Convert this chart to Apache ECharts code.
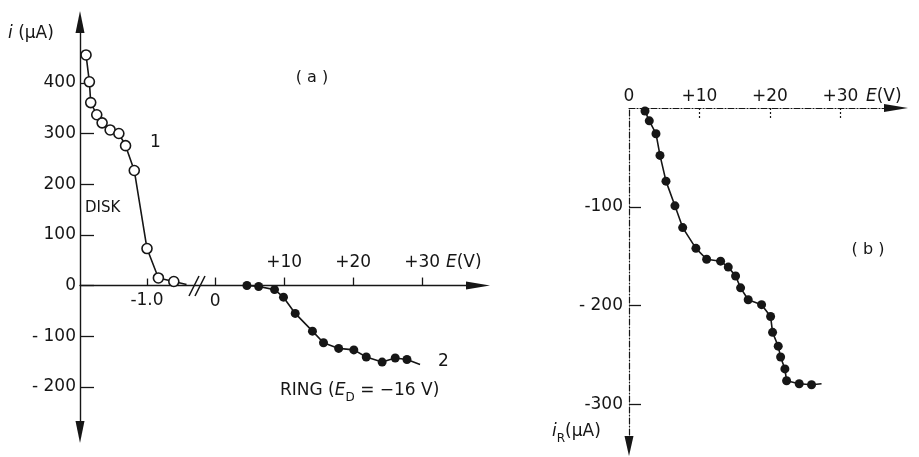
<!DOCTYPE html>
<html>
<head>
<meta charset="utf-8">
<title>Disk and ring current vs potential</title>
<script src="https://cdn.jsdelivr.net/npm/echarts@6.0.0/dist/echarts.min.js"></script>
<style>
  html, body { margin: 0; padding: 0; background: #fff; }
  #chart { width: 919px; height: 457px; }
</style>
</head>
<body>
<div id="chart"></div>
<script>
"use strict";

// (a) curve 1 — disk current (open circles), disk potential in V
const diskE = [-1.91, -1.86, -1.84, -1.75, -1.67, -1.55, -1.42, -1.32, -1.19, -1.00, -0.83, -0.60];
const diskI = [455, 402, 361, 337, 321, 307, 300, 276, 227, 73, 15, 8];
const diskTail = [-0.41, 2];          // curve runs on into the axis break

// (a) curve 2 — ring current, E_D = -16 V (filled dots)
const ringE = [4.6, 6.3, 8.6, 9.9, 11.6, 14.1, 15.7, 17.9, 20.1, 21.9, 24.2, 26.1, 27.8];
const ringI = [0, -2, -8, -23, -55, -90, -113, -124, -127, -141, -151, -143, -146];
const ringTail = [29.7, -156];

// (b) ring current i_R
const bE = [2.27, 2.88, 3.83, 4.40, 5.25, 6.52, 7.62, 9.50, 11.02, 13.0, 14.09, 15.13,
            15.84, 16.92, 18.82, 20.1, 20.38, 21.18, 21.52, 22.13, 22.37, 24.16, 25.91];
const bI = [-3, -13, -26, -48, -74, -99, -121, -142, -153, -155, -161, -170,
            -182, -194, -199, -211, -227, -241, -252, -264, -276, -279, -280];
const bTail = [27.33, -279];

// tick values and the text printed at them
const aYTicks = [-200, -100, 0, 100, 200, 300, 400];
const aYLabels = ["- 200", "- 100", "0", "100", "200", "300", "400"];
const diskTicks = [-1];
const diskLabels = ["-1.0"];
const ringTicks = [0, 10, 20, 30];
const ringLabels = ["0", "+10", "+20", "+30"];
const bXTicks = [0, 10, 20, 30];
const bXLabels = ["0", "+10", "+20", "+30"];
const bYTicks = [-100, -200, -300];
const bYLabels = ["-100", "- 200", "-300"];

const INK = "#161616";
const FONT = "'DejaVu Sans', sans-serif";
const labelOf = (ticks, labels) => (v) => {
  const k = ticks.indexOf(v);
  return k < 0 ? "" : labels[k];
};
const tickStyle = { color: INK, width: 1.3 };
const labelStyle = { color: INK, fontSize: 17, fontFamily: FONT };

// panel (a) frame; its x scales are drawn across the plot at i = 0
const A_GRID = { left: 80, top: 22, right: 441, bottom: 25 };
const A_Y = { min: -289, max: 520 };
const DISK_X = { min: -2, max: 3.94 };
const RING_X = { min: -19.6, max: 38.1 };
const A_HEIGHT = 457 - A_GRID.top - A_GRID.bottom;
const A_ZERO_LIFT = -A_Y.min / (A_Y.max - A_Y.min) * A_HEIGHT;   // px from grid bottom up to i = 0

function points(xs, ys, tail) {
  const d = xs.map((x, k) => [x, ys[k]]);
  d.push({ value: tail, symbol: "none" });
  return d;
}

const chart = echarts.init(document.getElementById("chart"), null, { renderer: "canvas" });

const text = (x, y, t, extra) => ({
  type: "text", x, y, silent: true,
  style: Object.assign({ text: t, fill: INK, fontSize: 17, fontFamily: FONT,
                         align: "left", verticalAlign: "middle" }, extra || {}),
});
const rich = {
  it: { fontStyle: "italic", fontSize: 17, fontFamily: FONT, lineHeight: 26 },
  n: { fontSize: 17, fontFamily: FONT, lineHeight: 26 },
  sub: { fontSize: 12, fontFamily: FONT, verticalAlign: "bottom", lineHeight: 26 },
};

chart.setOption({
  animation: false,
  backgroundColor: "#fff",
  grid: [
    Object.assign({ containLabel: false, outerBoundsMode: "none" }, A_GRID),
    { left: 629, top: 108, right: 23, bottom: 11, containLabel: false, outerBoundsMode: "none" },
  ],
  xAxis: [
    { // (a) disk potential scale, label below the axis
      type: "value", gridIndex: 0, position: "bottom", offset: -A_ZERO_LIFT, ...DISK_X,
      axisLine: { show: false, onZero: false },
      splitLine: { show: false },
      axisTick: { inside: true, length: 7, customValues: diskTicks, lineStyle: tickStyle },
      axisLabel: Object.assign({ customValues: diskTicks, formatter: labelOf(diskTicks, diskLabels), margin: 7 }, labelStyle),
    },
    { // (a) ring potential scale, labels above the axis
      type: "value", gridIndex: 0, position: "bottom", offset: -A_ZERO_LIFT, ...RING_X,
      axisLine: { show: true, onZero: false, symbol: ["none", "triangle"], symbolSize: [8, 24],
                  lineStyle: { color: INK, width: 1.4 } },
      splitLine: { show: false },
      axisTick: { inside: true, length: 8, customValues: ringTicks, lineStyle: tickStyle },
      axisLabel: Object.assign({ inside: true, customValues: ringTicks.slice(1),
                                 formatter: labelOf(ringTicks, ringLabels), margin: 14 }, labelStyle),
    },
    { // (a) ring scale again, only the "0" below the axis
      type: "value", gridIndex: 0, position: "bottom", offset: -A_ZERO_LIFT, ...RING_X,
      axisLine: { show: false, onZero: false },
      splitLine: { show: false },
      axisTick: { show: false },
      axisLabel: Object.assign({ customValues: [0], formatter: labelOf(ringTicks, ringLabels), margin: 8 }, labelStyle),
    },
    { // (b)
      type: "value", gridIndex: 1, position: "top", min: 0, max: 37.9,
      axisLine: { show: true, onZero: false, symbol: ["none", "triangle"], symbolSize: [8, 24],
                  lineStyle: { color: INK, width: 1.2, type: [6, 2, 1, 2] } },
      splitLine: { show: false },
      axisTick: { inside: true, length: 12, customValues: bXTicks.slice(1),
                  lineStyle: { color: INK, width: 1.2, type: [2, 2] } },
      axisLabel: Object.assign({ customValues: bXTicks, formatter: labelOf(bXTicks, bXLabels), margin: 3 }, labelStyle),
    },
  ],
  yAxis: [
    {
      type: "value", gridIndex: 0, ...A_Y,
      axisLine: { show: true, onZero: false, symbol: ["triangle", "triangle"], symbolSize: [9, 22],
                  lineStyle: { color: INK, width: 1.4 } },
      splitLine: { show: false },
      axisTick: { inside: true, length: 14, customValues: aYTicks, lineStyle: tickStyle },
      axisLabel: Object.assign({ customValues: aYTicks, formatter: labelOf(aYTicks, aYLabels), margin: 4 }, labelStyle),
    },
    {
      type: "value", gridIndex: 1, min: -342, max: 0,
      axisLine: { show: true, onZero: false, symbol: ["triangle", "none"], symbolSize: [9, 20],
                  lineStyle: { color: INK, width: 1.2, type: [6, 2, 1, 2] } },
      splitLine: { show: false },
      axisTick: { inside: true, length: 12, customValues: bYTicks, lineStyle: tickStyle },
      axisLabel: Object.assign({ customValues: bYTicks, formatter: labelOf(bYTicks, bYLabels), margin: 6 }, labelStyle),
    },
  ],
  series: [
    {
      type: "line", xAxisIndex: 0, yAxisIndex: 0, data: points(diskE, diskI, diskTail),
      symbol: "circle", symbolSize: 10, z: 4,
      lineStyle: { color: INK, width: 1.6 },
      itemStyle: { color: "#fff", borderColor: INK, borderWidth: 1.6 },
    },
    {
      type: "line", xAxisIndex: 1, yAxisIndex: 0, data: points(ringE, ringI, ringTail),
      symbol: "circle", symbolSize: 9, z: 4,
      lineStyle: { color: INK, width: 1.6 },
      itemStyle: { color: INK, borderWidth: 0 },
    },
    {
      type: "line", xAxisIndex: 3, yAxisIndex: 1, data: points(bE, bI, bTail),
      symbol: "circle", symbolSize: 9, z: 4,
      lineStyle: { color: INK, width: 1.6 },
      itemStyle: { color: INK, borderWidth: 0 },
    },
  ],
  graphic: [
    { type: "text", x: 8, y: 34, silent: true,
      style: { text: "{it|i}{n| (μA)}", rich, fill: INK, verticalAlign: "middle" } },
    text(312, 78, "( a )", { align: "center", fontSize: 16 }),
    text(150, 143, "1"),
    text(85, 208, "DISK", { fontSize: 15 }),
    text(438, 362, "2"),
    { type: "text", x: 280, y: 391, silent: true,
      style: { text: "{n|RING (}{it|E}{sub|D}{n| = −16 V)}", rich, fill: INK, verticalAlign: "middle" } },
    { type: "text", x: 446, y: 263, silent: true,
      style: { text: "{it|E}{n|(V)}", rich, fill: INK, verticalAlign: "middle" } },
    { type: "line", silent: true, shape: { x1: 189, y1: 296, x2: 199, y2: 276 },
      style: { stroke: INK, lineWidth: 1.5 } },
    { type: "line", silent: true, shape: { x1: 195, y1: 296, x2: 205, y2: 276 },
      style: { stroke: INK, lineWidth: 1.5 } },
    text(868, 250, "( b )", { align: "center", fontSize: 16 }),
    { type: "text", x: 866, y: 97, silent: true,
      style: { text: "{it|E}{n|(V)}", rich, fill: INK, verticalAlign: "middle" } },
    { type: "text", x: 552, y: 432, silent: true,
      style: { text: "{it|i}{sub|R}{n|(μA)}", rich, fill: INK, verticalAlign: "middle" } },
  ],
});
</script>
</body>
</html>
